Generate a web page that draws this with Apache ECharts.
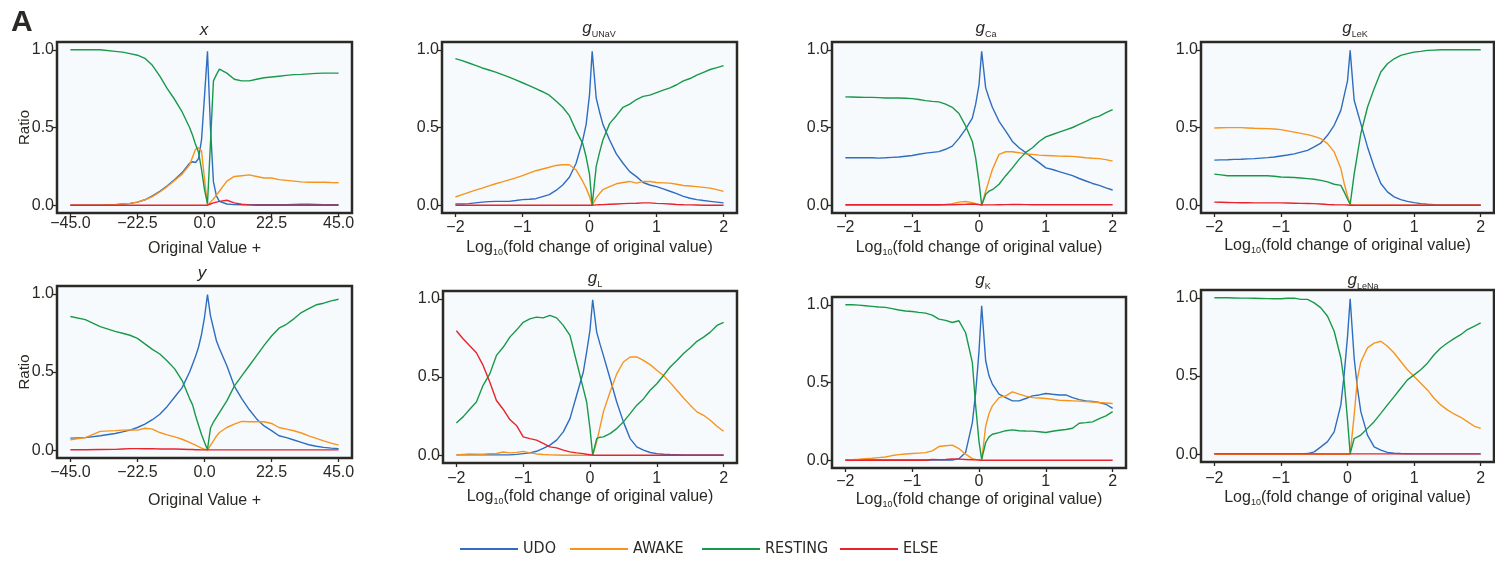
<!DOCTYPE html>
<html><head><meta charset="utf-8">
<script src="https://cdn.jsdelivr.net/npm/echarts@6/dist/echarts.min.js"></script>
<style>html,body{margin:0;padding:0;background:#fff}#c{width:1495px;height:562px}</style>
</head><body><div id="c"></div>
<script>
// ---------------- DATA ----------------
const STATES = ['UDO', 'AWAKE', 'RESTING', 'ELSE'];
const X_TICKS_LIN = [-45, -22.5, 0, 22.5, 45];
const X_TICKS_LOG = [-2, -1, 0, 1, 2];
const Y_TICKS = [0, 0.5, 1];

const X_LIN = [-45,-40,-35,-30,-27.5,-25,-22.5,-20,-17.5,-15,-12.5,-10,-7.5,-5,-4,-3,-2,-1,0,1,2,3,4,5,7.5,10,12.5,15,17.5,20,22.5,25,27.5,30,32.5,35,37.5,40,42.5,45];
const X_LOG = [-2,-1.9,-1.8,-1.7,-1.6,-1.5,-1.4,-1.3,-1.2,-1.1,-1,-0.9,-0.8,-0.7,-0.6,-0.5,-0.4,-0.3,-0.2,-0.1,-0.05,0,0.04,0.1,0.15,0.2,0.3,0.4,0.5,0.6,0.7,0.8,0.9,1,1.1,1.2,1.3,1.4,1.5,1.6,1.7,1.8,1.9,2];

// panel x
const x_UDO = [0,0,0,0.003,0.008,0.012,0.02,0.035,0.06,0.09,0.125,0.165,0.21,0.27,0.28,0.275,0.30,0.42,0.70,0.99,0.50,0.15,0.06,0.025,0.008,0.004,0.003,0.003,0.003,0.003,0.004,0.004,0.004,0.005,0.006,0.006,0.005,0.004,0.004,0.004];
const x_AWAKE = [0,0,0,0.003,0.008,0.012,0.02,0.035,0.055,0.085,0.12,0.16,0.20,0.26,0.31,0.36,0.37,0.35,0.17,0,0.02,0.04,0.065,0.09,0.155,0.185,0.19,0.195,0.185,0.175,0.175,0.165,0.16,0.155,0.15,0.148,0.148,0.148,0.146,0.145];
const x_RESTING = [1.0,1.0,1.0,0.99,0.985,0.975,0.965,0.945,0.90,0.83,0.75,0.68,0.60,0.50,0.45,0.39,0.34,0.23,0.10,0.01,0.40,0.80,0.84,0.875,0.85,0.81,0.80,0.80,0.81,0.82,0.825,0.83,0.835,0.84,0.842,0.845,0.848,0.85,0.85,0.85];
const x_ELSE = [0,0,0,0,0,0,0,0,0,0,0,0,0,0,0,0,0,0,0,0,0.008,0.015,0.02,0.025,0.032,0.015,0.006,0.002,0,0,0,0,0,0,0,0,0,0,0,0];

// panel y
const y_UDO = [0.077,0.08,0.092,0.107,0.117,0.128,0.145,0.167,0.195,0.23,0.28,0.34,0.40,0.50,0.55,0.60,0.66,0.74,0.85,0.995,0.86,0.78,0.70,0.65,0.54,0.41,0.33,0.26,0.20,0.155,0.125,0.092,0.08,0.065,0.05,0.035,0.025,0.018,0.013,0.01];
const y_AWAKE = [0.067,0.08,0.12,0.125,0.128,0.13,0.128,0.14,0.135,0.113,0.098,0.085,0.07,0.05,0.04,0.032,0.022,0.013,0.006,0,0.03,0.06,0.09,0.113,0.145,0.167,0.184,0.182,0.182,0.182,0.171,0.145,0.135,0.124,0.11,0.092,0.075,0.06,0.045,0.032];
const y_RESTING = [0.855,0.835,0.79,0.76,0.748,0.735,0.715,0.68,0.645,0.615,0.57,0.52,0.445,0.33,0.29,0.22,0.16,0.10,0.05,0.005,0.14,0.18,0.21,0.24,0.315,0.41,0.475,0.54,0.605,0.67,0.73,0.78,0.805,0.84,0.88,0.905,0.93,0.94,0.955,0.965];
const y_ELSE = [0.003,0.003,0.004,0.005,0.008,0.01,0.01,0.009,0.01,0.008,0.008,0.008,0.006,0.004,0.004,0.003,0.003,0.002,0.002,0.002,0.002,0.002,0.002,0.002,0.002,0.002,0.002,0.002,0.002,0.002,0.002,0.002,0.002,0.002,0.002,0.002,0.002,0.002,0.002,0.002];

// g_UNaV
const gUNaV_UDO = [0.008,0.008,0.01,0.015,0.02,0.023,0.025,0.025,0.025,0.03,0.036,0.038,0.042,0.055,0.068,0.095,0.13,0.18,0.27,0.42,0.52,0.71,0.99,0.69,0.60,0.52,0.42,0.33,0.27,0.216,0.184,0.146,0.13,0.12,0.105,0.09,0.075,0.057,0.045,0.036,0.03,0.025,0.02,0.015];
const gUNaV_AWAKE = [0.053,0.068,0.083,0.097,0.11,0.124,0.138,0.15,0.163,0.176,0.19,0.206,0.222,0.233,0.244,0.256,0.26,0.26,0.227,0.153,0.11,0.057,0,0.047,0.075,0.10,0.12,0.138,0.146,0.153,0.142,0.153,0.153,0.146,0.144,0.142,0.135,0.127,0.124,0.12,0.115,0.11,0.10,0.089];
const gUNaV_RESTING = [0.943,0.93,0.915,0.9,0.883,0.87,0.856,0.84,0.824,0.806,0.788,0.77,0.75,0.73,0.708,0.67,0.63,0.576,0.48,0.396,0.31,0.2,0,0.25,0.34,0.42,0.525,0.576,0.63,0.65,0.68,0.70,0.708,0.724,0.74,0.755,0.775,0.80,0.815,0.837,0.855,0.873,0.885,0.898];
const gUNaV_ELSE = [0,0,0,0,0,0,0,0,0,0,0,0,0,0,0,0,0,0,0,0,0,0,0,0.002,0.003,0.004,0.006,0.008,0.01,0.012,0.013,0.015,0.015,0.012,0.01,0.008,0.005,0.003,0.002,0.001,0,0,0,0];

// g_Ca
const gCa_UDO = [0.305,0.305,0.305,0.305,0.305,0.303,0.305,0.308,0.31,0.315,0.32,0.328,0.335,0.34,0.345,0.36,0.38,0.43,0.49,0.56,0.65,0.775,0.99,0.755,0.69,0.63,0.54,0.476,0.41,0.37,0.338,0.305,0.274,0.24,0.23,0.216,0.203,0.19,0.172,0.156,0.14,0.128,0.112,0.098];
const gCa_AWAKE = [0,0,0,0,0,0,0,0,0,0,0,0,0,0,0,0.005,0.01,0.02,0.024,0.017,0.01,0.005,0,0.09,0.16,0.23,0.327,0.344,0.344,0.338,0.33,0.327,0.322,0.32,0.318,0.316,0.315,0.314,0.31,0.305,0.302,0.30,0.293,0.284];
const gCa_RESTING = [0.697,0.696,0.695,0.694,0.694,0.692,0.69,0.69,0.69,0.688,0.686,0.68,0.673,0.668,0.665,0.65,0.63,0.59,0.51,0.41,0.305,0.15,0,0.07,0.09,0.10,0.135,0.19,0.24,0.295,0.34,0.37,0.41,0.44,0.455,0.47,0.485,0.50,0.52,0.54,0.56,0.573,0.595,0.615];
const gCa_ELSE = [0.003,0.003,0.003,0.003,0.003,0.003,0.003,0.003,0.003,0.003,0.003,0.003,0.003,0.003,0.003,0.003,0.003,0.005,0.006,0.008,0.006,0.004,0.002,0.002,0.002,0.002,0.003,0.004,0.005,0.005,0.004,0.003,0.003,0.003,0.003,0.003,0.003,0.003,0.003,0.003,0.003,0.003,0.003,0.003];

// g_LeK
const gLeK_UDO = [0.29,0.292,0.293,0.295,0.296,0.298,0.30,0.303,0.306,0.31,0.317,0.323,0.33,0.342,0.353,0.375,0.40,0.45,0.514,0.61,0.705,0.80,0.996,0.675,0.60,0.525,0.375,0.246,0.14,0.086,0.054,0.036,0.025,0.017,0.01,0.006,0.004,0.002,0.001,0.001,0.001,0.001,0.001,0.001];
const gLeK_AWAKE = [0.497,0.498,0.499,0.499,0.499,0.497,0.495,0.494,0.493,0.49,0.486,0.478,0.47,0.462,0.454,0.443,0.428,0.396,0.343,0.236,0.14,0.06,0.006,0,0,0,0,0,0,0,0,0,0,0,0,0,0,0,0,0,0,0,0,0];
const gLeK_RESTING = [0.2,0.195,0.19,0.19,0.19,0.19,0.19,0.19,0.19,0.186,0.182,0.18,0.178,0.175,0.171,0.167,0.16,0.15,0.135,0.128,0.086,0.04,0.006,0.2,0.33,0.46,0.63,0.75,0.857,0.91,0.942,0.964,0.975,0.985,0.99,0.996,0.998,1,1,1,1,1,1,1];
const gLeK_ELSE = [0.02,0.019,0.018,0.017,0.016,0.016,0.015,0.015,0.015,0.015,0.015,0.014,0.013,0.012,0.011,0.01,0.008,0.005,0.003,0.002,0.002,0.001,0,0,0,0,0,0,0,0,0,0,0,0,0,0,0,0,0,0,0,0,0,0];

// g_L
const gL_UDO = [0.002,0.002,0.002,0.002,0.002,0.002,0.002,0.002,0.002,0.005,0.01,0.015,0.025,0.043,0.064,0.096,0.149,0.234,0.383,0.532,0.66,0.80,0.994,0.787,0.71,0.638,0.49,0.34,0.213,0.106,0.053,0.032,0.017,0.01,0.006,0.004,0.003,0.002,0.001,0.001,0.001,0.001,0.001,0.001];
const gL_AWAKE = [0.002,0.005,0.008,0.007,0.006,0.01,0.011,0.02,0.015,0.018,0.024,0.015,0.008,0.004,0.002,0.001,0,0,0,0,0,0,0,0.085,0.18,0.277,0.404,0.52,0.596,0.628,0.628,0.606,0.579,0.543,0.51,0.464,0.415,0.366,0.32,0.277,0.255,0.223,0.185,0.153];
const gL_RESTING = [0.206,0.245,0.294,0.34,0.447,0.52,0.638,0.69,0.755,0.80,0.85,0.872,0.883,0.878,0.894,0.878,0.83,0.766,0.596,0.426,0.34,0.17,0,0.106,0.115,0.117,0.138,0.17,0.213,0.266,0.32,0.36,0.415,0.457,0.51,0.564,0.606,0.65,0.687,0.728,0.755,0.787,0.83,0.85];
const gL_ELSE = [0.796,0.745,0.70,0.655,0.574,0.468,0.35,0.294,0.228,0.19,0.117,0.106,0.096,0.075,0.053,0.047,0.032,0.021,0.015,0.01,0.006,0.003,0,0,0,0,0,0,0,0,0,0,0,0,0,0,0,0,0,0,0,0,0,0];

// g_K
const gK_UDO = [0.001,0.001,0.001,0.001,0.001,0.001,0.001,0.001,0.001,0.001,0.001,0.001,0.001,0.001,0.001,0.001,0.001,0.01,0.05,0.24,0.435,0.70,0.994,0.64,0.543,0.49,0.425,0.403,0.382,0.382,0.397,0.414,0.42,0.429,0.424,0.42,0.42,0.403,0.39,0.382,0.378,0.371,0.36,0.333];
const gK_AWAKE = [0.002,0.004,0.006,0.01,0.013,0.017,0.021,0.03,0.036,0.04,0.043,0.046,0.049,0.06,0.088,0.093,0.097,0.075,0.039,0.01,0.005,0.002,0,0.22,0.30,0.35,0.403,0.414,0.44,0.425,0.412,0.403,0.40,0.397,0.392,0.386,0.384,0.382,0.38,0.378,0.375,0.371,0.368,0.365];
const gK_RESTING = [1.0,1.0,0.998,0.994,0.99,0.986,0.983,0.975,0.966,0.96,0.957,0.951,0.946,0.933,0.908,0.90,0.886,0.897,0.82,0.63,0.35,0.12,0.006,0.114,0.15,0.167,0.178,0.19,0.195,0.19,0.188,0.187,0.183,0.178,0.186,0.193,0.198,0.206,0.238,0.242,0.247,0.268,0.285,0.313];
const gK_ELSE = [0,0,0,0,0,0,0,0,0,0,0,0,0,0.005,0.004,0.005,0.008,0.007,0.005,0.003,0.002,0.001,0,0,0,0,0,0,0,0,0,0,0,0,0,0,0,0,0,0,0,0,0,0];

// g_LeNa
const gLeNa_UDO = [0.001,0.001,0.001,0.001,0.001,0.001,0.001,0.001,0.001,0.001,0.001,0.001,0.001,0.002,0.004,0.015,0.047,0.08,0.143,0.315,0.51,0.75,0.994,0.615,0.42,0.272,0.122,0.047,0.026,0.011,0.006,0.004,0.003,0.002,0.002,0.002,0.002,0.002,0.002,0.002,0.002,0.002,0.002,0.002];
const gLeNa_AWAKE = [0,0,0,0,0,0,0,0,0,0,0,0,0,0,0,0,0,0,0,0,0,0,0,0.25,0.486,0.59,0.68,0.71,0.722,0.69,0.647,0.593,0.54,0.497,0.454,0.411,0.358,0.315,0.283,0.257,0.236,0.208,0.18,0.165];
const gLeNa_RESTING = [1.0,1.0,1.0,0.999,0.998,0.998,0.997,0.996,0.995,0.994,0.994,0.997,0.998,0.99,0.99,0.968,0.936,0.882,0.786,0.615,0.465,0.22,0.004,0.10,0.11,0.122,0.165,0.208,0.261,0.315,0.368,0.422,0.475,0.507,0.54,0.582,0.636,0.679,0.711,0.739,0.764,0.797,0.818,0.84];
const gLeNa_ELSE = [0.002,0.002,0.002,0.002,0.002,0.002,0.002,0.002,0.002,0.002,0.002,0.002,0.002,0.002,0.002,0.002,0.002,0.002,0.002,0.002,0.002,0.002,0.002,0.002,0.002,0.002,0.002,0.002,0.002,0.002,0.002,0.002,0.002,0.002,0.002,0.002,0.002,0.002,0.002,0.002,0.002,0.002,0.002,0.002];

// ---------------- STYLE / LAYOUT ----------------
const FONT = "'Liberation Sans', Arial, sans-serif";
const LEG_FONT = "'Liberation Sans Narrow', 'DejaVu Sans Condensed', 'Liberation Sans', sans-serif";
const INK = '#2b2925';
const BG = '#f7fafd';
const COLORS = { UDO: '#2e6dbf', AWAKE: '#f7941d', RESTING: '#18994a', ELSE: '#e8232b' };

const PANELS = [
  { kind: 'lin', xs: X_LIN, vals: [x_UDO, x_AWAKE, x_RESTING, x_ELSE], box: [57, 42, 295, 171], ratio: true, lm: 3, ng: 28, title: '{i|x}', tx: 204, ty: 30 },
  { kind: 'log', xs: X_LOG, vals: [gUNaV_UDO, gUNaV_AWAKE, gUNaV_RESTING, gUNaV_ELSE], box: [442, 42, 295, 171], lm: 7, ng: 25, title: '{g|g}{s|UNaV}', tx: 599, ty: 28 },
  { kind: 'log', xs: X_LOG, vals: [gCa_UDO, gCa_AWAKE, gCa_RESTING, gCa_ELSE], box: [832, 42, 294, 171], lm: 7, ng: 25, title: '{g|g}{s|Ca}', tx: 986, ty: 28 },
  { kind: 'log', xs: X_LOG, vals: [gLeK_UDO, gLeK_AWAKE, gLeK_RESTING, gLeK_ELSE], box: [1201, 42, 293, 171], lm: 7, ng: 23, title: '{g|g}{s|LeK}', tx: 1355, ty: 28 },
  { kind: 'lin', xs: X_LIN, vals: [y_UDO, y_AWAKE, y_RESTING, y_ELSE], box: [57, 286, 295, 172], ratio: true, lm: 7, ng: 35, title: '{i|y}', tx: 202, ty: 273 },
  { kind: 'log', xs: X_LOG, vals: [gL_UDO, gL_AWAKE, gL_RESTING, gL_ELSE], box: [443, 291, 294, 172], lm: 8, ng: 24, title: '{g|g}{s|L}', tx: 595, ty: 278 },
  { kind: 'log', xs: X_LOG, vals: [gK_UDO, gK_AWAKE, gK_RESTING, gK_ELSE], box: [832, 297, 294, 171], lm: 6, ng: 22, title: '{g|g}{s|K}', tx: 983, ty: 280 },
  { kind: 'log', xs: X_LOG, vals: [gLeNa_UDO, gLeNa_AWAKE, gLeNa_RESTING, gLeNa_ELSE], box: [1201, 290, 293, 172], lm: 9, ng: 26, title: '{g|g}{s|LeNa}', tx: 1363, ty: 280 }
];

const fmtLin = v => (v < 0 ? '\u2212' : '') + Math.abs(v).toFixed(1);
const fmtLog = v => (v < 0 ? '\u2212' : '') + Math.abs(v);

const grids = [], xAxes = [], yAxes = [], series = [], graphics = [];
PANELS.forEach((p, i) => {
  grids.push({ left: p.box[0], top: p.box[1], width: p.box[2], height: p.box[3], show: true,
    backgroundColor: BG, borderColor: INK, borderWidth: 2.5, containLabel: false });
  const lin = p.kind === 'lin';
  xAxes.push({
    type: 'value', gridIndex: i, min: lin ? -49.5 : -2.2, max: lin ? 49.5 : 2.2, position: 'bottom',
    axisLine: { show: false, onZero: false }, splitLine: { show: false },
    axisTick: { show: true, length: 4, lineStyle: { color: INK, width: 1.3 }, customValues: lin ? X_TICKS_LIN : X_TICKS_LOG },
    axisLabel: { customValues: lin ? X_TICKS_LIN : X_TICKS_LOG, formatter: lin ? fmtLin : fmtLog, color: INK, fontSize: 16, fontFamily: FONT, margin: p.lm },
    name: lin ? 'Original Value +' : '{a|Log}{s|10}{a|(fold change of original value)}',
    nameLocation: 'middle', nameGap: p.ng, nameMoveOverlap: false,
    nameTextStyle: lin ? { color: INK, fontSize: 16, fontFamily: FONT } : {
      color: INK, fontSize: 16, fontFamily: FONT,
      rich: { a: { color: INK, fontSize: 16, fontFamily: FONT, lineHeight: 19 },
              s: { color: INK, fontSize: 9, fontFamily: FONT, lineHeight: 9, verticalAlign: 'bottom' } } }
  });
  yAxes.push({
    type: 'value', gridIndex: i, min: -0.05, max: 1.05, position: 'left',
    axisLine: { show: false, onZero: false }, splitLine: { show: false },
    axisTick: { show: true, length: 4, lineStyle: { color: INK, width: 1.3 }, customValues: Y_TICKS },
    axisLabel: { customValues: Y_TICKS, formatter: v => v.toFixed(1), color: INK, fontSize: 16, fontFamily: FONT, margin: 3 },
    name: p.ratio ? 'Ratio' : '', nameLocation: 'middle', nameGap: 25, nameMoveOverlap: false,
    nameTextStyle: { color: INK, fontSize: 15, fontFamily: FONT }
  });
  STATES.forEach((s, k) => {
    series.push({
      type: 'line', name: s, xAxisIndex: i, yAxisIndex: i,
      data: p.xs.map((x, j) => [x, p.vals[k][j]]),
      symbol: 'none', showSymbol: false, silent: true,
      lineStyle: { width: 1.4, color: COLORS[s] }, itemStyle: { color: COLORS[s] }
    });
  });
  graphics.push({
    type: 'text', x: p.tx, y: p.ty, z: 100,
    style: {
      text: p.title, align: 'center', verticalAlign: 'middle', fill: INK,
      fontSize: 16, fontFamily: FONT,
      rich: {
        i: { fontSize: 17, fontStyle: 'italic', fontFamily: FONT, fill: INK },
        g: { fontSize: 17, fontStyle: 'italic', fontFamily: FONT, fill: INK, lineHeight: 22 },
        s: { fontSize: 9, fontFamily: FONT, fill: INK, lineHeight: 9, verticalAlign: 'bottom' }
      }
    }
  });
});

graphics.push({ type: 'text', x: 11, y: 23, z: 100,
  style: { text: 'A', fontSize: 30, fontWeight: 900, fontFamily: FONT, fill: INK, align: 'left', verticalAlign: 'middle' } });

const LEG_X = [460, 570, 702, 840];
const legends = STATES.map((s, k) => ({
  data: [s], left: LEG_X[k], top: 541, padding: 0, itemGap: 0,
  icon: 'rect', itemWidth: 58, itemHeight: 2, selectedMode: false,
  textStyle: { color: INK, fontSize: 16, fontFamily: LEG_FONT }
}));

const chart = echarts.init(document.getElementById('c'), null, { renderer: 'canvas' });
chart.setOption({
  animation: false,
  backgroundColor: '#ffffff',
  grid: grids, xAxis: xAxes, yAxis: yAxes, series: series,
  legend: legends, graphic: graphics
});
</script>
</body></html>
